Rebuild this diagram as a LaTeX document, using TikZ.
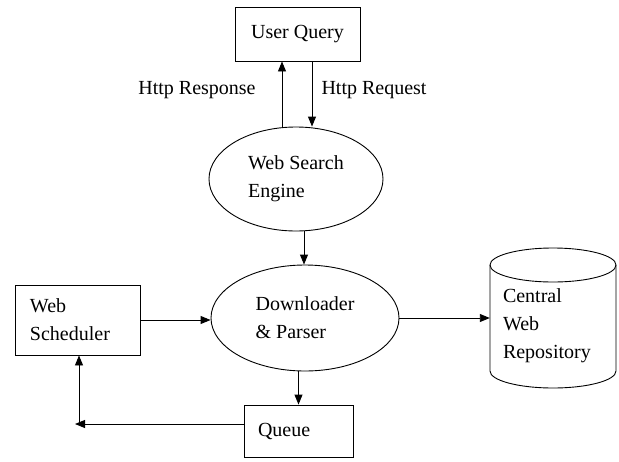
\documentclass[tikz,border=0pt]{standalone}
\usepackage{fontspec}
\setmainfont{Liberation Serif}
\usetikzlibrary{shapes.geometric,arrows.meta}
\begin{document}
\begin{tikzpicture}[x=1pt,y=1pt,
  every node/.style={font=\fontsize{20}{28}\selectfont},
  box/.style={draw,rectangle,line width=0.9pt,inner sep=0pt},
  oval/.style={draw,ellipse,line width=0.9pt,inner sep=0pt,align=left},
  arr/.style={line width=0.9pt,-{Triangle[length=10pt,width=8pt]}},
  lbl/.style={inner sep=0pt}]
\useasboundingbox (0,0) rectangle (619,-461);
% nodes
\node[box,minimum width=125,minimum height=54] (uq) at (297.5,-34) {User Query};
\node[oval,minimum width=174,minimum height=104] (wse) at (296,-179) {Web Search\\Engine};
\node[oval,minimum width=188,minimum height=106] (dl) at (305,-318) {Downloader\\\& Parser};
\node[box,minimum width=125,minimum height=70,text width=95,inner xsep=15,align=left] (ws) at (77.5,-320) {Web\\Scheduler};
\node[box,minimum width=109,minimum height=52,text width=81,inner xsep=14,align=left] (q) at (298.5,-431) {Queue};
\node[rectangle,minimum width=126,minimum height=140,text width=100,inner xsep=13,inner ysep=0pt,align=left] (repo) at (553,-326) {Central\\Web\\Repository};
% cylinder outline
\draw[line width=0.9pt] (490,-265) -- (490,-371) arc[start angle=180,end angle=360,x radius=63pt,y radius=17pt] -- (616,-265);
\draw[line width=0.9pt] (553,-265) ellipse[x radius=63pt,y radius=17pt];
% labels
\node[lbl] (lresp) at (197,-90) {Http Response};
\node[lbl] (lreq) at (374,-90) {Http Request};
% helper coordinates
\coordinate (r1) at (282,0);
\coordinate (r2) at (312,0);
\coordinate (c3) at (304,0);
\coordinate (qe) at (75,-424);
\coordinate (vb) at (79,-424);
% connectors
\draw[arr] (wse.north -| r1) -- (uq.south -| r1);
\draw[arr] (uq.south -| r2) -- (wse.north -| r2);
\draw[arr] (wse.south -| c3) -- (dl.north -| c3);
\draw[arr] (ws.east) -- (ws.east -| dl.west);
\draw[arr] (dl.east) -- (dl.east -| repo.west);
\draw[arr] (dl.south -| q.north) -- (q.north);
\draw[arr] (q.west |- qe) -- (qe);
\draw[arr] (vb) -- (ws.south -| vb);
\end{tikzpicture}
\end{document}
